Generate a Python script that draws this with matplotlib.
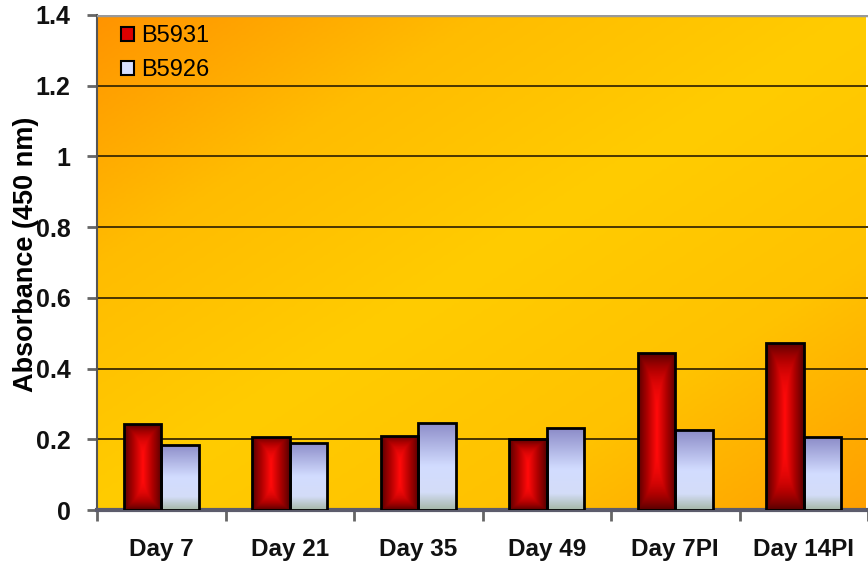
import matplotlib.pyplot as plt
import numpy as np
from matplotlib.colors import LinearSegmentedColormap

days = ['Day 7', 'Day 21', 'Day 35', 'Day 49', 'Day 7PI', 'Day 14PI']
b5931 = [0.243, 0.207, 0.210, 0.200, 0.443, 0.473]
b5926 = [0.184, 0.190, 0.247, 0.231, 0.226, 0.206]

plt.rcParams['font.family'] = ['Liberation Sans', 'DejaVu Sans']

fig = plt.figure(figsize=(8.68, 5.69), dpi=100)
ax = fig.add_axes([97 / 868, 59 / 569, 771 / 868, 495 / 569])

xlim = (-0.5, -0.5 + 771 / 129)
ax.set_xlim(*xlim)
ax.set_ylim(0, 1.4)

# diagonal orange -> yellow -> orange background
bg_cmap = LinearSegmentedColormap.from_list(
    'bg', ['#ff9400', '#ffbc00', '#ffcc00', '#ffc200', '#ffa000'])
yy, xx = np.mgrid[0:1:200j, 0:1:300j]
diag = (xx + yy) / 2.0
ax.imshow(diag, cmap=bg_cmap, extent=(xlim[0], xlim[1], 0, 1.4), origin='upper',
          aspect='auto', zorder=0, interpolation='bilinear')

ax.yaxis.grid(True, color='#3a2a00', linewidth=1.3, zorder=1)
ax.set_axisbelow(True)

x = np.arange(len(days))
w = 0.29
red_bars = ax.bar(x - w / 2, b5931, w, facecolor='none', edgecolor='black', linewidth=2, zorder=4)
blue_bars = ax.bar(x + w / 2, b5926, w, facecolor='none', edgecolor='black', linewidth=2, zorder=4)

# red fill: bright centre, dark edges
red_cmap = LinearSegmentedColormap.from_list('r', ['#5a0000', '#b00000', '#ff0a0a'])
u = np.linspace(-1, 1, 60)
v = np.linspace(-1, 1, 120)
U, V = np.meshgrid(u, v)
red_img = 1 - np.maximum(np.abs(U), np.abs(V) ** 3)
blue_cmap = LinearSegmentedColormap.from_list(
    'b', [(0, '#8c8cc8'), (0.5, '#d2dcff'), (0.8, '#d4ddf8'), (1.0, '#a6b8a8')])
blue_img = np.linspace(0, 1, 120)[:, None] * np.ones((1, 10))

for bar in red_bars:
    x0, y0 = bar.get_x(), bar.get_y()
    im = ax.imshow(red_img, cmap=red_cmap, extent=(x0, x0 + bar.get_width(), y0, y0 + bar.get_height()),
                   aspect='auto', zorder=3, interpolation='bilinear')
    im.set_clip_path(bar)
for bar in blue_bars:
    x0, y0 = bar.get_x(), bar.get_y()
    im = ax.imshow(blue_img, cmap=blue_cmap, extent=(x0, x0 + bar.get_width(), y0, y0 + bar.get_height()),
                   origin='upper', aspect='auto', zorder=3, interpolation='bilinear')
    im.set_clip_path(bar)

ax.set_xlim(*xlim)
ax.set_ylim(0, 1.4)

ax.set_yticks([0, 0.2, 0.4, 0.6, 0.8, 1.0, 1.2, 1.4])
ax.set_yticklabels(['0', '0.2', '0.4', '0.6', '0.8', '1', '1.2', '1.4'],
                   fontsize=18, fontweight='bold', color='#111111')
ax.set_xticks(x)
ax.set_xticklabels(days, fontsize=17.5, fontweight='bold', color='#111111')
ax.tick_params(axis='x', length=0, pad=20)
ax.set_xticks(np.arange(len(days) + 1) - 0.5, minor=True)
ax.tick_params(axis='x', which='minor', length=8, width=2, color='#666666', direction='out')
ax.tick_params(axis='y', length=7, width=2, color='#666666', pad=12)

for side in ['top', 'right']:
    ax.spines[side].set_visible(False)
ax.spines['left'].set_color('#555555')
ax.spines['left'].set_linewidth(1.5)
ax.spines['bottom'].set_color('#5c5c6c')
ax.spines['bottom'].set_linewidth(3)
ax.axhline(1.4, color='#999999', linewidth=2.5, zorder=5)

ax.set_ylabel('Absorbance (450 nm)', fontsize=19.5, fontweight='bold')
ax.yaxis.set_label_coords(-0.075, 0.516)

leg = ax.legend([plt.Rectangle((0, 0), 1, 1, facecolor='#dd0000', edgecolor='black', linewidth=1.5),
                 plt.Rectangle((0, 0), 1, 1, facecolor='#d8e0ff', edgecolor='black', linewidth=1.5)],
                ['B5931', 'B5926'], loc='upper left', bbox_to_anchor=(0.003, 1.022), frameon=False,
                fontsize=17, handlelength=0.55, handleheight=0.55, handletextpad=0.3,
                labelspacing=0.5)

fig.savefig('out.png', dpi=100)
